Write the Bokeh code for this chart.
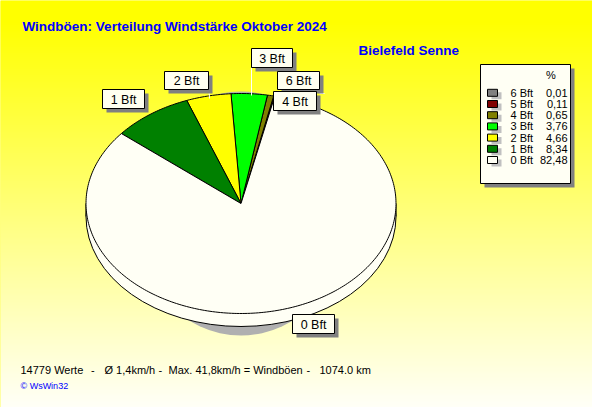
import numpy as np
from bokeh.plotting import figure
from bokeh.models import Range1d
from bokeh.core.properties import value
from bokeh.embed import file_html
from bokeh.resources import INLINE

# ---------------- data ----------------
bft_labels = ["6 Bft", "5 Bft", "4 Bft", "3 Bft", "2 Bft", "1 Bft", "0 Bft"]
percent = [0.01, 0.11, 0.65, 3.76, 4.66, 8.34, 82.48]
percent_text = ["0,01", "0,11", "0,65", "3,76", "4,66", "8,34", "82,48"]
slice_colors = ["#808080", "#800000", "#808000", "#00FF00", "#FFFF00", "#008000", "#FFFFF5"]

title = "Windböen: Verteilung Windstärke  Oktober 2024"
station = "Bielefeld Senne"
footer_parts = ["14779 Werte", "-", "Ø 1,4km/h", "-", "Max. 41,8km/h = Windböen", "-", "1074.0 km"]
credit = "© WsWin32"

# ---------------- layout (pixel coords of the 592x407 picture) ----------------
W, H = 592, 407
p = figure(width=W, height=H, output_backend="svg", toolbar_location=None,
           x_range=Range1d(0, W), y_range=Range1d(H, 0),
           min_border=0, outline_line_color=None)
p.axis.visible = False
p.grid.visible = False
p.background_fill_color = "#FFFF00"
p.border_fill_color = "#FFFF00"

# background gradient (yellow -> cream)
ys = np.arange(0, 408, 2)
cols = []
for y in ys:
    f = min(max((y - 20) / (407 - 20), 0.0), 1.0)
    b = int(round(248 * f))
    cols.append("#%02X%02X%02X" % (255, 255, b))
p.quad(left=0, right=600, top=ys, bottom=ys + 3, fill_color=cols, line_color=None)

FONT = value("Liberation Sans")

# ---------------- pie ----------------
cx, cy = 240.5, 203.0
rx, ry = 155.0, 110.0
depth = 13.0
start_deg = 77.4

# shadow
p.ellipse(x=[cx], y=[cy + 10], width=[216], height=[244], fill_color="#B0B0B0", line_color=None)
# bottom face + side band
p.ellipse(x=[cx], y=[cy + depth], width=[2 * rx], height=[2 * ry],
          fill_color="#FFFFF5", line_color="black", line_width=1)
p.quad(left=[cx - rx + 0.5], right=[cx + rx - 0.5], top=[cy], bottom=[cy + depth],
       fill_color="#FFFFF5", line_color=None)
p.segment(x0=[cx - rx, cx + rx], y0=[cy, cy], x1=[cx - rx, cx + rx], y1=[cy + depth, cy + depth],
          line_color="black", line_width=1)

total = sum(percent)
xs_list, ys_list = [], []
a = start_deg
for pct in percent:
    ext = pct / total * 360.0
    n = max(2, int(ext / 1.0) + 2)
    t = np.radians(np.linspace(a, a + ext, n))
    xs = [cx] + list(cx + rx * np.cos(t)) + [cx]
    yy = [cy] + list(cy - ry * np.sin(t)) + [cy]
    xs_list.append(xs)
    ys_list.append(yy)
    a += ext
p.patches(xs=xs_list, ys=ys_list, fill_color=slice_colors, line_color="black", line_width=1)

# leader lines (white)
p.segment(x0=[251, 208.5, 319], y0=[67, 89, 93], x1=[251, 209, 324], y1=[95, 98, 93],
          line_color="white", line_width=1)

# ---------------- slice labels ----------------
label_boxes = {  # left, top, right, bottom
    "1 Bft": (102, 89, 144, 108),
    "2 Bft": (164, 71, 208, 89),
    "3 Bft": (251, 48, 292, 67),
    "6 Bft": (277, 71, 319, 89),
    "4 Bft": (273, 91, 316, 110),
    "0 Bft": (292, 314, 334, 333),
}
lab_names = [n for n in bft_labels if n in label_boxes]
L = [label_boxes[n][0] for n in lab_names]
T = [label_boxes[n][1] for n in lab_names]
R = [label_boxes[n][2] for n in lab_names]
B = [label_boxes[n][3] for n in lab_names]
p.quad(left=[v + 4 for v in L], right=[v + 4 for v in R], top=[v + 4 for v in T],
       bottom=[v + 4 for v in B], fill_color="#808080", line_color=None)
p.quad(left=L, right=R, top=T, bottom=B, fill_color="#FFFFF0", line_color="black", line_width=1)
p.text(x=[(l + r) / 2 for l, r in zip(L, R)], y=[(t + b) / 2 + 0.5 for t, b in zip(T, B)],
       text=lab_names, text_font=FONT, text_font_size="12.5px", text_color="black",
       text_align="center", text_baseline="middle")

# ---------------- legend ----------------
p.quad(left=[484], right=[574], top=[68], bottom=[187], fill_color="#808080", line_color=None)
p.quad(left=[480], right=[570], top=[64], bottom=[183], fill_color="#FFFFF4",
       line_color="black", line_width=1)
p.text(x=[550.5], y=[74], text=["%"], text_font=FONT, text_font_size="11px",
       text_color="black", text_align="center", text_baseline="middle")
row_y = [92.3 + i * 11.2 for i in range(len(bft_labels))]
p.quad(left=[491] * len(row_y), right=[501] * len(row_y), top=[y - 0.5 for y in row_y],
       bottom=[y + 6.5 for y in row_y], fill_color="#C0C0C0", line_color=None)
p.quad(left=[487] * len(row_y), right=[497] * len(row_y), top=[y - 3.5 for y in row_y],
       bottom=[y + 3.5 for y in row_y], fill_color=slice_colors, line_color="black", line_width=1)
p.text(x=[510] * len(row_y), y=row_y, text=bft_labels, text_font=FONT, text_font_size="11px",
       text_color="black", text_align="left", text_baseline="middle")
p.text(x=[567] * len(row_y), y=row_y, text=percent_text, text_font=FONT, text_font_size="11px",
       text_color="black", text_align="right", text_baseline="middle")

# ---------------- titles ----------------
p.text(x=[22], y=[25.5], text=[title], text_font=FONT, text_font_size="13.5px",
       text_font_style="bold", text_color="#0000FF", text_align="left", text_baseline="middle")
p.text(x=[358], y=[50], text=[station], text_font=FONT, text_font_size="13.5px",
       text_font_style="bold", text_color="#0000FF", text_align="left", text_baseline="middle")

# ---------------- footer ----------------
footer_x = [20, 90.5, 104, 158, 168, 306, 319]
p.text(x=footer_x, y=[369.5] * len(footer_x), text=footer_parts, text_font=FONT,
       text_font_size="11px", text_color="black", text_align="left", text_baseline="middle")
p.text(x=[20], y=[385.5], text=[credit], text_font=FONT, text_font_size="9px",
       text_color="#0000FF", text_align="left", text_baseline="middle")

open("out.html", "w").write(file_html(p, INLINE))
